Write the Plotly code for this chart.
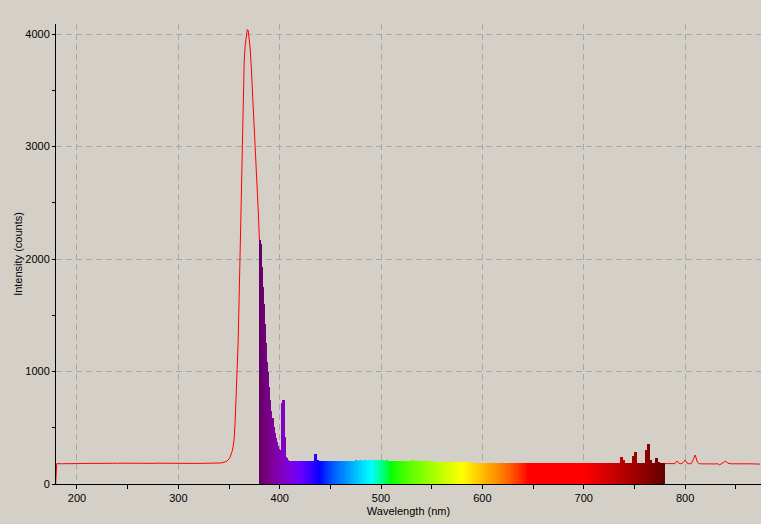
import plotly.graph_objects as go

# ---------------- data ----------------
# left part of the spectrum drawn as the red line (nm, counts)
wl_left = [179, 180, 185, 190, 195, 200, 205, 210, 215, 220, 225, 230, 235, 240, 245,
           250, 255, 260, 265, 270, 275, 280, 285, 290, 295, 300, 305, 310, 315, 320,
           325, 330, 335,
           336, 337, 338, 339, 340, 341, 342, 343, 344, 345, 346, 347, 348, 349,
           350, 351, 352, 353, 354, 355, 356, 357, 358, 359, 360, 361, 362, 363, 364,
           365, 366, 367, 368, 369, 370, 371, 372, 373, 374, 375, 376, 377, 378, 379]
int_left = [0, 181, 180, 182, 180, 181, 182, 183, 182, 184, 183, 185, 184, 185, 184,
            185, 186, 185, 186, 185, 184, 185, 184, 185, 183, 184, 183, 182, 184, 183,
            184, 183, 184,
            184, 183, 185, 184, 186, 186, 187, 189, 190, 192, 195, 199, 204, 212,
            223, 238, 258, 288, 330, 392, 540, 760, 980, 1260, 1650, 2080, 2540, 3050, 3500,
            3760, 3900, 4000, 4040, 4030, 3960, 3860, 3700, 3530, 3340, 3160, 2990, 2760, 2560, 2400]

# visible-range part of the spectrum, drawn as the coloured fill
wl_fill_fine = list(range(380, 412))          # 1 nm steps
int_fill_fine = [2169, 2133, 1932, 1754, 1600, 1422, 1253, 1087, 998, 865,
                 747, 652, 587, 510, 453, 409, 376, 338, 308, 273,
                 264, 302, 720, 747, 421, 243, 228, 213, 208, 206,
                 205, 204]
wl_fill_coarse = list(range(412, 780, 2))     # 2 nm steps
int_fill_coarse = [
    204, 203, 204, 204, 203, 204, 204, 205, 204, 204,   # 412-430
    205, 267, 212, 205, 205, 206, 205, 206, 206, 205,   # 432-450
    206, 207, 206, 207, 207, 208, 207, 208, 207, 208,   # 452-470
    208, 209, 208, 209, 208, 209, 210, 209, 209, 210,   # 472-490
    209, 209, 210, 209, 209, 208, 209, 208, 208, 207,   # 492-510
    208, 207, 207, 206, 207, 206, 206, 205, 206, 212,   # 512-530
    205, 204, 204, 203, 203, 202, 202, 201, 201, 200,   # 532-550
    200, 199, 199, 198, 198, 197, 197, 196, 196, 195,   # 552-570
    195, 194, 194, 193, 193, 193, 192, 192, 191, 191,   # 572-590
    191, 190, 190, 190, 189, 189, 189, 189, 188, 188,   # 592-610
    188, 188, 188, 188, 187, 188, 187, 188, 187, 187,   # 612-630
    188, 187, 187, 188, 187, 187, 188, 187, 187, 187,   # 632-650
    188, 187, 187, 187, 188, 187, 187, 188, 187, 187,   # 652-670
    187, 188, 187, 187, 187, 188, 187, 187, 187, 186,   # 672-690
    187, 187, 186, 187, 187, 186, 187, 186, 186, 187,   # 692-710
    186, 186, 186, 187, 186, 186, 186, 186, 186, 186,   # 712-730
    186, 188, 237, 215, 187, 186, 186, 187, 249, 284,   # 732-750
    190, 186, 186, 186, 302, 356, 215, 186, 190, 231,   # 752-770
    200, 186, 186, 186,                                 # 772-778
]

# right part of the spectrum drawn as the red line
wl_right = list(range(780, 876, 2))
int_right = [181, 180, 179, 180, 179, 181, 204, 183, 179, 190,
             213, 185, 179, 181, 215, 258, 196, 181, 179, 180,
             179, 179, 180, 179, 178, 179, 180, 170, 183, 195,
             204, 185, 179, 179, 180, 179, 179, 180, 179, 179,
             179, 180, 179, 179, 180, 179, 179, 177]

x_ticks = [200, 300, 400, 500, 600, 700, 800]
y_ticks = [0, 1000, 2000, 3000, 4000]

x_title = "Wavelength (nm)"
y_title = "Intensity (counts)"

# ---------------- styling helpers ----------------
def wavelength_rgb(w, gamma=0.8):
    if 380 <= w < 440:
        r, g, b = -(w - 440) / 60.0, 0.0, 1.0
    elif 440 <= w < 490:
        r, g, b = 0.0, (w - 440) / 50.0, 1.0
    elif 490 <= w < 510:
        r, g, b = 0.0, 1.0, -(w - 510) / 20.0
    elif 510 <= w < 580:
        r, g, b = (w - 510) / 70.0, 1.0, 0.0
    elif 580 <= w < 645:
        r, g, b = 1.0, -(w - 645) / 65.0, 0.0
    else:
        r, g, b = 1.0, 0.0, 0.0
    if w < 420:
        f = 0.3 + 0.7 * (w - 380) / 40.0
    elif w > 700:
        f = 0.3 + 0.7 * (780 - w) / 80.0
    else:
        f = 1.0
    def c(v):
        return 0 if v == 0 else int(round(255 * (v * f) ** gamma))
    return f"rgb({c(r)},{c(g)},{c(b)})"

wl_fill = wl_fill_fine + wl_fill_coarse
int_fill = int_fill_fine + int_fill_coarse
assert len(wl_fill) == len(int_fill), (len(wl_fill), len(int_fill))
assert len(wl_left) == len(int_left), (len(wl_left), len(int_left))
assert len(wl_right) == len(int_right), (len(wl_right), len(int_right))

steps = [wl_fill[i + 1] - wl_fill[i] for i in range(len(wl_fill) - 1)] + [2]
colors = [wavelength_rgb(w + s / 2.0) for w, s in zip(wl_fill, steps)]
# each bar slightly overlaps the next one so no seams appear between them
widths = [s + 0.9 if i < len(steps) - 1 else s for i, s in enumerate(steps)]

BG = "#D4D0C8"
FONT = "Liberation Sans"

fig = go.Figure()

fig.add_trace(go.Scatter(
    x=wl_left + [wl_fill[0]], y=int_left + [int_fill[0]],
    mode="lines", line=dict(color="#FF0000", width=1),
    hoverinfo="skip", showlegend=False))
fig.add_trace(go.Scatter(
    x=wl_right, y=int_right,
    mode="lines", line=dict(color="#FF0000", width=1),
    hoverinfo="skip", showlegend=False))

fig.add_trace(go.Bar(
    x=wl_fill, y=int_fill, width=widths, offset=0,
    marker=dict(color=colors, line=dict(width=0)),
    hoverinfo="skip", showlegend=False))

fig.update_layout(
    width=761, height=524,
    margin=dict(l=56, r=0, t=24, b=40),
    paper_bgcolor=BG, plot_bgcolor=BG,
    font=dict(family=FONT, size=11, color="#000000"),
    bargap=0,
    hovermode=False,
    xaxis=dict(
        range=[179.3, 874.9], tickvals=x_ticks,
        showline=True, linecolor="#000000", linewidth=1,
        ticks="outside", ticklen=4, tickcolor="#000000",
        minor=dict(dtick=50, tick0=0, ticks="outside", ticklen=4, tickcolor="#000000"),
        showgrid=True, gridcolor="#A8A8A8", griddash="6px,4px", gridwidth=1,
        zeroline=False,
        title=dict(text=x_title, standoff=4, font=dict(size=11)),
        tickfont=dict(size=11),
    ),
    yaxis=dict(
        range=[0, 4089], tickvals=y_ticks, tickformat="d",
        showline=True, linecolor="#000000", linewidth=1,
        ticks="outside", ticklen=3, tickcolor="#000000",
        minor=dict(dtick=500, tick0=0, ticks="outside", ticklen=3, tickcolor="#000000"),
        showgrid=True, gridcolor="#A8A8A8", griddash="6px,4px", gridwidth=1,
        zeroline=False,
        title=dict(text=y_title, standoff=0, font=dict(size=11)),
        tickfont=dict(size=11),
    ),
)

fig.write_html(
    "out.html",
    config={"displayModeBar": False},
    post_script="document.body.style.margin='0px';document.body.style.overflow='hidden';",
)
